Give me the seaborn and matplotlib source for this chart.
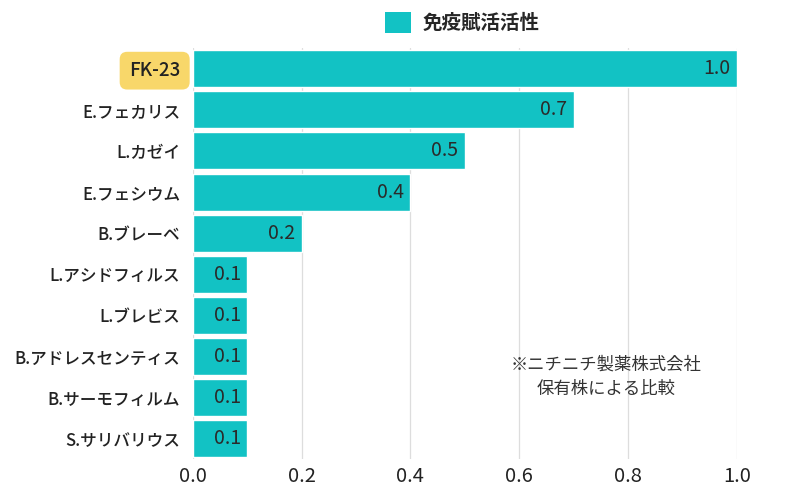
import seaborn as sns
import pandas as pd
import matplotlib.pyplot as plt
from matplotlib.patches import Patch

strains = ["FK-23", "E.フェカリス", "L.カゼイ", "E.フェシウム", "B.ブレーベ",
           "L.アシドフィルス", "L.ブレビス", "B.アドレスセンティス", "B.サーモフィルム", "S.サリバリウス"]
activity = [1.0, 0.7, 0.5, 0.4, 0.2, 0.1, 0.1, 0.1, 0.1, 0.1]
xticks = [0.0, 0.2, 0.4, 0.6, 0.8, 1.0]
legend_label = "免疫賦活活性"
note = "※ニチニチ製薬株式会社\n保有株による比較"

teal = "#12C2C4"

sns.set_style("white")
plt.rcParams["font.family"] = ["Noto Sans CJK JP", "DejaVu Sans"]

df = pd.DataFrame({"strain": strains, "activity": activity})

fig = plt.figure(figsize=(8, 4.96), dpi=100)
ax = fig.add_axes([0.241, 0.074, 0.68, 0.829])
sns.barplot(data=df, x="activity", y="strain", color=teal, saturation=1,
            width=0.9, ax=ax, zorder=3)

for i, v in enumerate(activity):
    ax.text(v - 0.012, i, f"{v:.1f}", ha="right", va="center", fontsize=14,
            color="#2a2a2a", zorder=4)

ax.set_xlim(0, 1.0)
ax.set_ylim(9.5, -0.5)
ax.set_xticks(xticks)
ax.set_xticklabels([f"{t:.1f}" for t in xticks], fontsize=14.5, color="#222222")
ax.set_xlabel("")
ax.set_ylabel("")
ax.tick_params(axis="y", labelsize=12, pad=9, length=0, labelcolor="#222222")
ax.tick_params(axis="x", length=0, pad=5)
for lab in ax.get_yticklabels():
    lab.set_fontweight("medium")
ax.grid(axis="x", color="#dddddd", linewidth=0.9, zorder=0)
ax.set_axisbelow(True)
sns.despine(ax=ax, left=True, bottom=True)

# highlight the first label
lab = ax.get_yticklabels()[0]
lab.set_fontsize(13.5)
lab.set_bbox(dict(boxstyle="round,pad=0.5,rounding_size=0.4", facecolor="#F8D76A",
                  edgecolor="none"))

ax.text(0.76, 7.5, note, ha="center", va="center", fontsize=12.5,
        color="#333333", linespacing=1.45, zorder=4)

handles = [Patch(facecolor=teal, edgecolor="none", label=legend_label)]
fig.legend(handles=handles, loc="center", bbox_to_anchor=(0.578, 0.955),
           frameon=False, handlelength=1.3, handleheight=1.3,
           handletextpad=0.6, prop={"weight": "bold", "size": 14})

fig.savefig("out.png", dpi=100)
